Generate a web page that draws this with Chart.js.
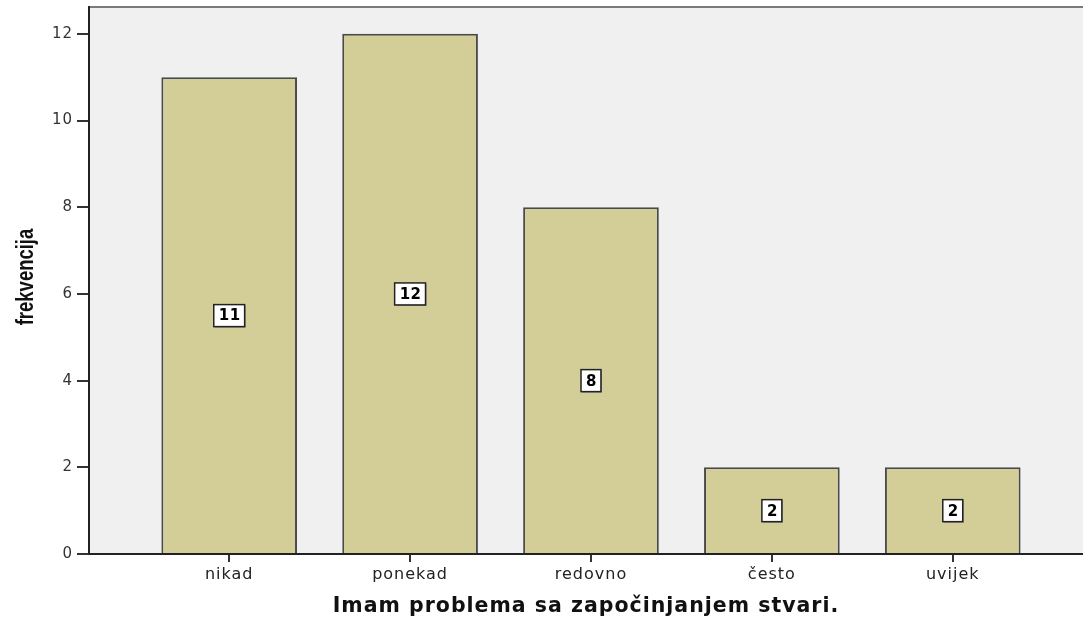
<!DOCTYPE html>
<html>
<head>
<meta charset="utf-8">
<script src="https://cdn.jsdelivr.net/npm/chart.js@4/dist/chart.umd.min.js"></script>
<style>
  html, body { margin: 0; padding: 0; background: #fff; }
  #wrap { width: 1083px; height: 619px; }
</style>
</head>
<body>
<div id="wrap"><canvas id="freqChart" width="1083" height="619"></canvas></div>
<script>
const categories = ['nikad', 'ponekad', 'redovno', 'često', 'uvijek'];
const counts = [11, 12, 8, 2, 2];
const yTicks = [0, 2, 4, 6, 8, 10, 12];

const xTitle = 'Imam problema sa započinjanjem stvari.';
const yTitle = 'frekvencija';

// plot background + top frame line, slightly wide letter spacing like the SPSS export
const plotFrame = {
    id: 'plotFrame',
    beforeDraw(chart) {
        const { ctx, chartArea: a } = chart;
        ctx.save();
        ctx.fillStyle = '#f0f0f0';
        ctx.fillRect(a.left, a.top, a.right - a.left, a.bottom - a.top);
        ctx.strokeStyle = '#7a7a7a';
        ctx.lineWidth = 2;
        ctx.beginPath();
        ctx.moveTo(a.left, a.top);
        ctx.lineTo(a.right, a.top);
        ctx.stroke();
        ctx.restore();
        ctx.letterSpacing = '1px';
    },
    afterDraw(chart) {
        // y title in a condensed bold face
        const { ctx } = chart;
        ctx.save();
        ctx.letterSpacing = '0px';
        ctx.translate(33, 277);
        ctx.rotate(-Math.PI / 2);
        ctx.scale(0.77, 1);
        ctx.font = 'bold 24px "Liberation Sans", Arial, sans-serif';
        ctx.fillStyle = '#111';
        ctx.textAlign = 'center';
        ctx.textBaseline = 'alphabetic';
        ctx.fillText(yTitle, 0, 0);
        ctx.restore();
    }
};

// value boxes in the middle of each bar
const valueBoxes = {
    id: 'valueBoxes',
    afterDatasetsDraw(chart) {
        const { ctx } = chart;
        const meta = chart.getDatasetMeta(0);
        const yScale = chart.scales.y;
        ctx.save();
        ctx.letterSpacing = '0.5px';
        ctx.font = 'bold 15px "DejaVu Sans", sans-serif';
        ctx.textAlign = 'center';
        ctx.textBaseline = 'middle';
        meta.data.forEach((bar, i) => {
            const v = counts[i];
            const cx = bar.x;
            const cy = yScale.getPixelForValue(v / 2);
            const txt = String(v);
            const w = ctx.measureText(txt).width + 9;
            const h = 22;
            ctx.fillStyle = '#888';
            ctx.fillRect(cx - w / 2 + 1, cy - h / 2 + 1, w, h);
            ctx.fillStyle = '#fff';
            ctx.fillRect(cx - w / 2, cy - h / 2, w, h);
            ctx.strokeStyle = '#222';
            ctx.lineWidth = 1.5;
            ctx.strokeRect(cx - w / 2, cy - h / 2, w, h);
            ctx.fillStyle = '#000';
            ctx.fillText(txt, cx + 0.5, cy + 1);
        });
        ctx.restore();
    }
};

const ctx = document.getElementById('freqChart').getContext('2d');
new Chart(ctx, {
    type: 'bar',
    data: {
        datasets: [{
            data: counts.map((c, i) => ({ x: i + 1, y: c })),
            backgroundColor: '#d3ce98',
            borderColor: '#4a4a4a',
            borderWidth: 2,
            borderSkipped: 'bottom',
            barPercentage: 0.75,
            categoryPercentage: 1
        }]
    },
    options: {
        responsive: false,
        animation: false,
        layout: { padding: { top: 7, right: 0, left: 0, bottom: 0 } },
        plugins: {
            legend: { display: false },
            tooltip: { enabled: false }
        },
        scales: {
            x: {
                type: 'linear',
                min: 0.225,
                max: 5.72,
                offset: false,
                afterBuildTicks: (axis) => { axis.ticks = categories.map((c, i) => ({ value: i + 1 })); },
                afterFit: (s) => { s.height = 65; },
                ticks: {
                    autoSkip: false,
                    maxRotation: 0,
                    padding: 3,
                    color: '#222',
                    font: { family: '"DejaVu Sans", sans-serif', size: 16 },
                    callback: (v) => categories[Math.round(v) - 1]
                },
                grid: {
                    offset: false,
                    drawOnChartArea: false,
                    drawTicks: true,
                    tickLength: 8,
                    color: '#333',
                    lineWidth: 2
                },
                border: { display: true, color: '#222', width: 2 },
                title: {
                    display: true,
                    text: xTitle,
                    color: '#111',
                    font: { family: '"DejaVu Sans", sans-serif', size: 20.5, weight: 'bold' },
                    padding: { top: 4, bottom: 0 }
                }
            },
            y: {
                min: 0,
                max: 12.62,
                afterBuildTicks: (axis) => { axis.ticks = yTicks.map(v => ({ value: v })); },
                afterFit: (s) => { s.width = 89; s.paddingTop = 0; },
                ticks: {
                    padding: 4,
                    color: '#333',
                    font: { family: '"DejaVu Sans", sans-serif', size: 15 }
                },
                grid: {
                    drawOnChartArea: false,
                    drawTicks: true,
                    tickLength: 12,
                    color: '#333',
                    lineWidth: 2
                },
                border: { display: true, color: '#222', width: 2 },
                title: { display: false, text: yTitle }
            }
        }
    },
    plugins: [plotFrame, valueBoxes]
});
</script>
</body>
</html>
